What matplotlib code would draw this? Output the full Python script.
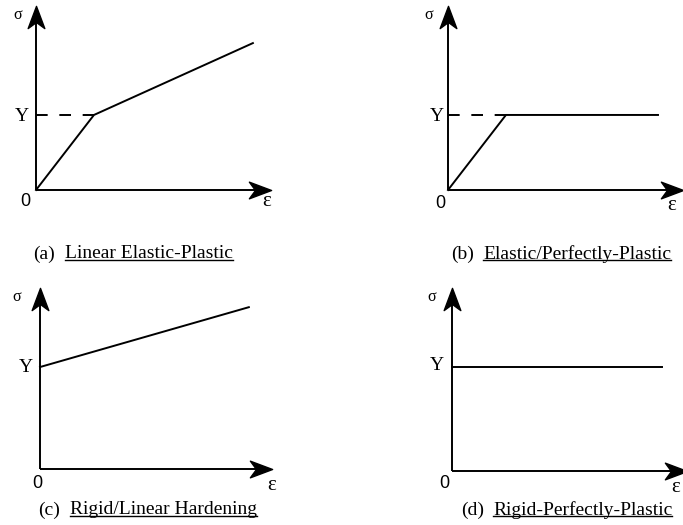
import numpy as np
import matplotlib
matplotlib.use("Agg")
import matplotlib.pyplot as plt
from matplotlib.path import Path

W, H = 683, 525

# idealised stress-strain models (strain, stress in normalised units)
yield_a = 0.424
strain_a = [0.0, 0.252, 0.943]
stress_a = [0.0, yield_a, 0.83]

yield_b = 0.424
strain_b = [0.0, 0.252, 0.913]
stress_b = [0.0, yield_b, yield_b]

yield_c = 0.586
strain_c = [0.0, 0.92]
stress_c = [yield_c, 0.93]

yield_d = 0.59
strain_d = [0.0, 0.913]
stress_d = [yield_d, yield_d]

tags = ["(a)", "(b)", "(c)", "(d)"]
titles = ["Linear Elastic-Plastic", "Elastic/Perfectly-Plastic",
          "Rigid/Linear Hardening", "Rigid-Perfectly-Plastic"]

# panel frames in pixels: origin x, origin y, x-axis tip, y-axis tip
frames = [(36, 190, 266, 13), (448, 190, 678, 13),
          (40, 469, 267, 295), (452, 471, 682, 295)]

# label positions in pixels: sigma, Y, 0, epsilon
labels_px = [
    [(18, 15), (22, 116), (25, 202), (267, 202)],
    [(429, 15), (437, 116), (440, 203), (672, 206)],
    [(17, 297), (26, 368), (37, 484), (272, 486)],
    [(432, 297), (437, 366), (444, 484), (676, 487)],
]
caption_px = [(33, 65, 254), (451, 483, 254), (38, 70, 510), (461, 493, 510)]

serif = "Liberation Serif"
sans = "Liberation Sans"

fig = plt.figure(figsize=(W / 100, H / 100), dpi=100)
fig.patch.set_facecolor("white")


def fx(x):
    return x / W


def fy(y):
    return 1 - y / H


# stealth-style arrow head pointing right / up
head_r = Path([(1, 0), (-1, 0.75), (-0.45, 0), (-1, -0.75), (1, 0)],
              [Path.MOVETO, Path.LINETO, Path.LINETO, Path.LINETO, Path.CLOSEPOLY])
head_u = Path([(0, 1), (0.75, -1), (0, -0.45), (-0.75, -1), (0, 1)],
              [Path.MOVETO, Path.LINETO, Path.LINETO, Path.LINETO, Path.CLOSEPOLY])

curves = [(strain_a, stress_a, yield_a, True),
          (strain_b, stress_b, yield_b, True),
          (strain_c, stress_c, yield_c, False),
          (strain_d, stress_d, yield_d, False)]

for i, (ox, oy, tx, ty) in enumerate(frames):
    ax = fig.add_axes([fx(ox), fy(oy), (tx - ox) / W, (oy - ty) / H])
    ax.set_xlim(0, 1)
    ax.set_ylim(0, 1)
    ax.axis("off")
    # coordinate axes with arrow heads
    ax.plot([0, 0.96], [0, 0], color="black", lw=1.4, clip_on=False,
            solid_capstyle="butt")
    ax.plot([0, 0], [0, 0.96], color="black", lw=1.4, clip_on=False,
            solid_capstyle="butt")
    ax.plot([0.975], [0], marker=head_r, ms=16, color="black", clip_on=False)
    ax.plot([0], [0.975], marker=head_u, ms=16, color="black", clip_on=False)

    xs, ys, yv, dashed = curves[i]
    ax.plot(xs, ys, color="black", lw=1.4, clip_on=False)
    if dashed:
        ax.plot([0, xs[1]], [yv, yv], color="black", lw=1.4, dashes=(6, 6))

    (sx, sy), (yx, yy), (zx, zy), (ex, ey) = labels_px[i]
    fig.text(fx(sx), fy(sy), "σ", family=serif, fontsize=11.5,
             ha="center", va="center")
    fig.text(fx(yx), fy(yy), "Y", family=serif, fontsize=14,
             ha="center", va="center")
    fig.text(fx(zx), fy(zy), "0", family=sans, fontsize=13,
             ha="center", va="center")
    fig.text(fx(ex), fy(ey), "ε", family=serif, fontsize=15,
             ha="center", va="center")

# captions with underlined names
cap_texts = []
for i, (tx, nx, cy) in enumerate(caption_px):
    fig.text(fx(tx), fy(cy), tags[i], family=serif, fontsize=14,
             ha="left", va="center")
    t = fig.text(fx(nx), fy(cy), titles[i], family=serif, fontsize=14,
                 ha="left", va="center")
    cap_texts.append(t)

fig.canvas.draw()
renderer = fig.canvas.get_renderer()
for t in cap_texts:
    bb = t.get_window_extent(renderer)
    y_line = bb.y0 + 2.5
    fig.add_artist(plt.Line2D([bb.x0 / W, bb.x1 / W], [y_line / H, y_line / H],
                              color="black", lw=1.0, transform=fig.transFigure))

fig.savefig("out.png", dpi=100, facecolor="white")
